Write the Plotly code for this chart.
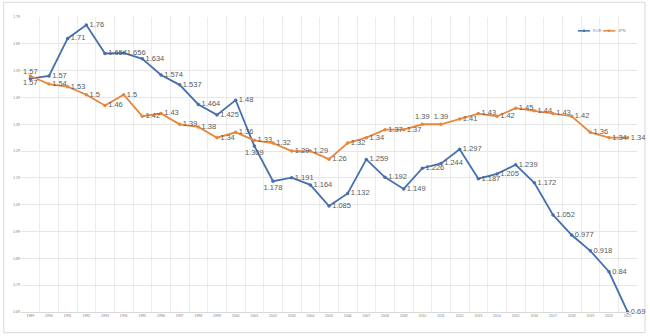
import plotly.graph_objects as go

years = [str(y) for y in range(1989, 2022)]
kor = [1.56, 1.57, 1.71, 1.76, 1.654, 1.656, 1.634, 1.574, 1.537, 1.464, 1.425, 1.48,
       1.309, 1.178, 1.191, 1.164, 1.085, 1.132, 1.259, 1.192, 1.149, 1.226, 1.244,
       1.297, 1.187, 1.205, 1.239, 1.172, 1.052, 0.977, 0.918, 0.84, 0.69]
jpn = [1.57, 1.54, 1.53, 1.5, 1.46, 1.5, 1.42, 1.43, 1.39, 1.38, 1.34, 1.36,
       1.33, 1.32, 1.29, 1.29, 1.26, 1.32, 1.34, 1.37, 1.37, 1.39, 1.39,
       1.41, 1.43, 1.42, 1.45, 1.44, 1.43, 1.42, 1.36, 1.34, 1.34]
kor_label = ["1.57", "1.57", "1.71", "1.76", "1.654", "1.656", "1.634", "1.574", "1.537",
             "1.464", "1.425", "1.48", "1.309", "1.178", "1.191", "1.164", "1.085", "1.132",
             "1.259", "1.192", "1.149", "1.226", "1.244", "1.297", "1.187", "1.205", "1.239",
             "1.172", "1.052", "0.977", "0.918", "0.84", "0.69"]
jpn_label = [f"{v:g}" for v in jpn]
yticks = [0.69, 0.79, 0.89, 0.99, 1.09, 1.19, 1.29, 1.39, 1.49, 1.59, 1.69, 1.79]
series_names = ["KOR", "JPN"]

kor_pos = ["middle right"] * len(years)
kor_pos[0] = "top center"
kor_pos[12] = "bottom center"
kor_pos[13] = "bottom center"
jpn_pos = ["middle right"] * len(years)
jpn_pos[0] = "bottom center"
jpn_pos[21] = "top center"
jpn_pos[22] = "top center"

BLUE = "#4670ad"
ORANGE = "#e8873b"
LABEL = dict(family="Liberation Sans, Arial, sans-serif", size=7.5, color="#5a5a5a")

fig = go.Figure()
fig.add_trace(go.Scatter(x=years, y=kor, name=series_names[0], mode="lines+markers+text",
                         line=dict(color=BLUE, width=1.8), marker=dict(size=3.5, color=BLUE),
                         text=kor_label, textposition=kor_pos, textfont=LABEL, cliponaxis=False))
fig.add_trace(go.Scatter(x=years, y=jpn, name=series_names[1], mode="lines+markers+text",
                         line=dict(color=ORANGE, width=1.8), marker=dict(size=3.5, color=ORANGE),
                         text=jpn_label, textposition=jpn_pos, textfont=LABEL, cliponaxis=False))

# compact legend (decoration) in paper coordinates
shapes = [dict(type="rect", xref="paper", yref="paper", x0=-0.028, x1=1.013, y0=-0.07, y1=1.05,
               line=dict(color="#d9d9d9", width=1), fillcolor="rgba(0,0,0,0)", layer="below")]
annotations = []
leg_y = 0.953
for i, (name, col) in enumerate(zip(series_names, [BLUE, ORANGE])):
    x0 = 0.904 + i * 0.041
    shapes.append(dict(type="line", xref="paper", yref="paper", x0=x0, x1=x0 + 0.020,
                       y0=leg_y, y1=leg_y, line=dict(color=col, width=1.5)))
    shapes.append(dict(type="circle", xref="paper", yref="paper",
                       x0=x0 + 0.010 - 0.0022, x1=x0 + 0.010 + 0.0022,
                       y0=leg_y - 0.0045, y1=leg_y + 0.0045,
                       fillcolor=col, line=dict(color=col, width=0)))
    annotations.append(dict(xref="paper", yref="paper", x=x0 + 0.021, y=leg_y, text=name,
                            showarrow=False, xanchor="left", yanchor="middle",
                            font=dict(size=4, color="#7f7f7f")))

fig.update_layout(
    width=650, height=336,
    margin=dict(l=21, r=13, t=17, b=24),
    paper_bgcolor="white", plot_bgcolor="white",
    font=dict(family="Liberation Sans, Arial, sans-serif", color="#7f7f7f"),
    showlegend=False,
    shapes=shapes,
    annotations=annotations,
)
fig.update_xaxes(type="category", tickson="boundaries", showgrid=True, gridcolor="#ececec",
                 gridwidth=1, ticks="", showline=True, linecolor="#d9d9d9",
                 tickfont=dict(size=3.5, color="#808080"), range=[-0.5, len(years) - 0.5])
fig.update_yaxes(range=[0.69, 1.79], tickvals=yticks, ticktext=[f"{v:.2f}" for v in yticks],
                 showgrid=True, gridcolor="#e6e6e6", gridwidth=1, zeroline=False,
                 tickfont=dict(size=3.5, color="#808080"), ticks="")

fig.write_html("out.html")
